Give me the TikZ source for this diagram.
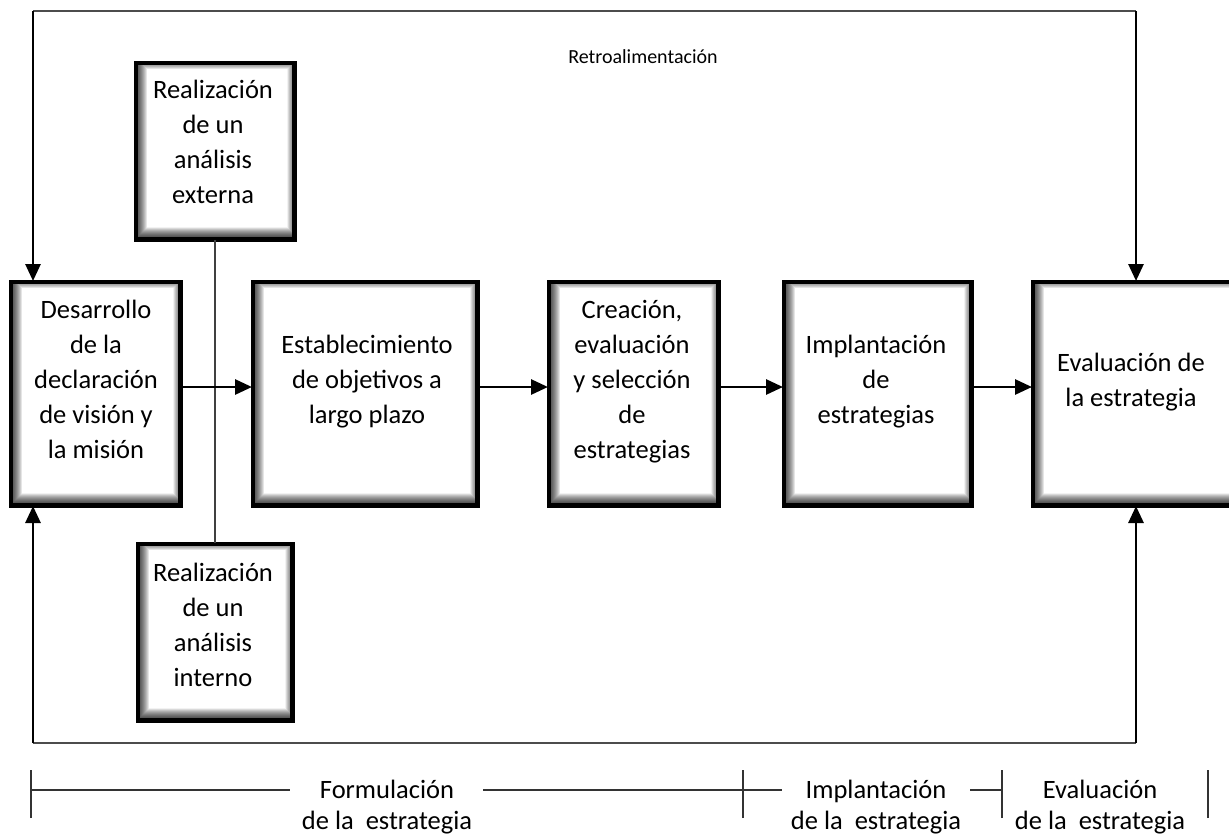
\documentclass[tikz,border=0pt]{standalone}
\usepackage{fontspec}
\setmainfont{Carlito}
\usetikzlibrary{arrows.meta}
\tikzset{
  box/.style={draw=black, line width=3pt, fill=white, rectangle, inner sep=0pt, anchor=north west},
  txt/.style={align=center, font=\fontsize{26.5}{35}\selectfont, inner sep=0pt,
    execute at begin node=\strut, execute at end node=\strut},
  lab/.style={align=center, font=\fontsize{26.5}{31}\selectfont, inner sep=0pt,
    execute at begin node=\strut, execute at end node=\strut},
  title/.style={font=\fontsize{20}{24}\selectfont, inner sep=0pt},
  flow/.style={line width=2.8pt, -{Triangle[length=17pt,width=15pt]}},
  feed/.style={line width=1.8pt, draw=black!70},
  thinline/.style={line width=1.1pt, draw=black!75},
  scaleline/.style={line width=1.2pt, draw=black!80},
}
% soft inner shadow along the inside of a box, heavier at left and bottom
\newcommand{\innershade}[1]{%
  \begin{scope}
    \clip (#1.south west) rectangle (#1.north east);
    \foreach \w in {1,...,20}
      \draw[black, opacity=0.05, line width=\w pt]
        ([shift={(2,-3)}]#1.south west) rectangle ([shift={(2,-3)}]#1.north east);
  \end{scope}
  \draw[line width=3pt] (#1.south west) rectangle (#1.north east);
}
\begin{document}
\begin{tikzpicture}[x=1pt,y=-1pt]
\useasboundingbox (0,0) rectangle (1229,836);

% process boxes
\node[box, minimum width=168pt, minimum height=222pt] (b1) at (10,281) {};
\node[box, minimum width=223pt, minimum height=222pt] (b2) at (252,281) {};
\node[box, minimum width=168pt, minimum height=222pt] (b3) at (548,281) {};
\node[box, minimum width=186pt, minimum height=222pt] (b4) at (783,281) {};
\node[box, minimum width=203pt, minimum height=222pt] (b5) at (1032,281) {};
\node[box, minimum width=157pt, minimum height=175pt] (ext) at (135,62) {};
\node[box, minimum width=153pt, minimum height=175pt] (int) at (137,543) {};

\foreach \n in {b1,b2,b3,b4,b5,ext,int} {\innershade{\n}}

% box texts
\node[txt] (t1) at (96,385) {Desarrollo\\de la\\declaración\\de visión y\\la misión};
\node[txt] (t2) at (367,385) {Establecimiento\\de objetivos a\\largo plazo};
\node[txt] (t3) at (632,385) {Creación,\\evaluación\\y selección\\de\\estrategias};
\node[txt] (t4) at (876,385) {Implantación\\de\\estrategias};
\node[txt] (t5) at (1131,385) {Evaluación de\\la estrategia};
\node[txt] (te) at (213,147) {Realización\\de un\\análisis\\externa};
\node[txt] (ti) at (213,630) {Realización\\de un\\análisis\\interno};

% analysis link
\draw[thinline] (ext.south) -- (int.north);

% main flow
\coordinate (ah) at (0,387);
\draw[flow] (b1.east |- ah) -- (b2.west |- ah);
\draw[flow] (b2.east |- ah) -- (b3.west |- ah);
\draw[flow] (b3.east |- ah) -- (b4.west |- ah);
\draw[flow] (b4.east |- ah) -- (b5.west |- ah);

% feedback loops
\coordinate (tl) at (33,11);
\coordinate (tr) at (1136,11);
\coordinate (bl) at (33,743);
\coordinate (br) at (1136,743);
\draw[feed] (tl) -- (tr);
\draw[feed] (bl) -- (br);
\draw[flow] (tl) -- (tl |- b1.north);
\draw[flow] (tr) -- (tr |- b5.north);
\draw[flow] (bl) -- (bl |- b1.south);
\draw[flow] (br) -- (br |- b5.south);
\node[title] (retro) at (643,57) {Retroalimentación};

% phase scale
\coordinate (k1) at (31,790);
\coordinate (k2) at (743,790);
\coordinate (k3) at (1002,790);
\coordinate (k4) at (1208,790);
\coordinate (s1) at (290,790);
\coordinate (s2) at (483,790);
\coordinate (s3) at (782,790);
\coordinate (s4) at (970,790);
\foreach \k in {k1,k2,k3,k4}
  \draw[scaleline] ([yshift=-28pt]\k) -- ([yshift=20pt]\k);
\draw[scaleline] (k1) -- (s1);
\draw[scaleline] (s2) -- (s3);
\draw[scaleline] (s4) -- (k3);
\node[lab] (p1) at (387,809) {Formulación\\de la~ estrategia};
\node[lab] (p2) at (876,809) {Implantación\\de la~ estrategia};
\node[lab] (p3) at (1100,809) {Evaluación\\de la~ estrategia};
\end{tikzpicture}
\end{document}
